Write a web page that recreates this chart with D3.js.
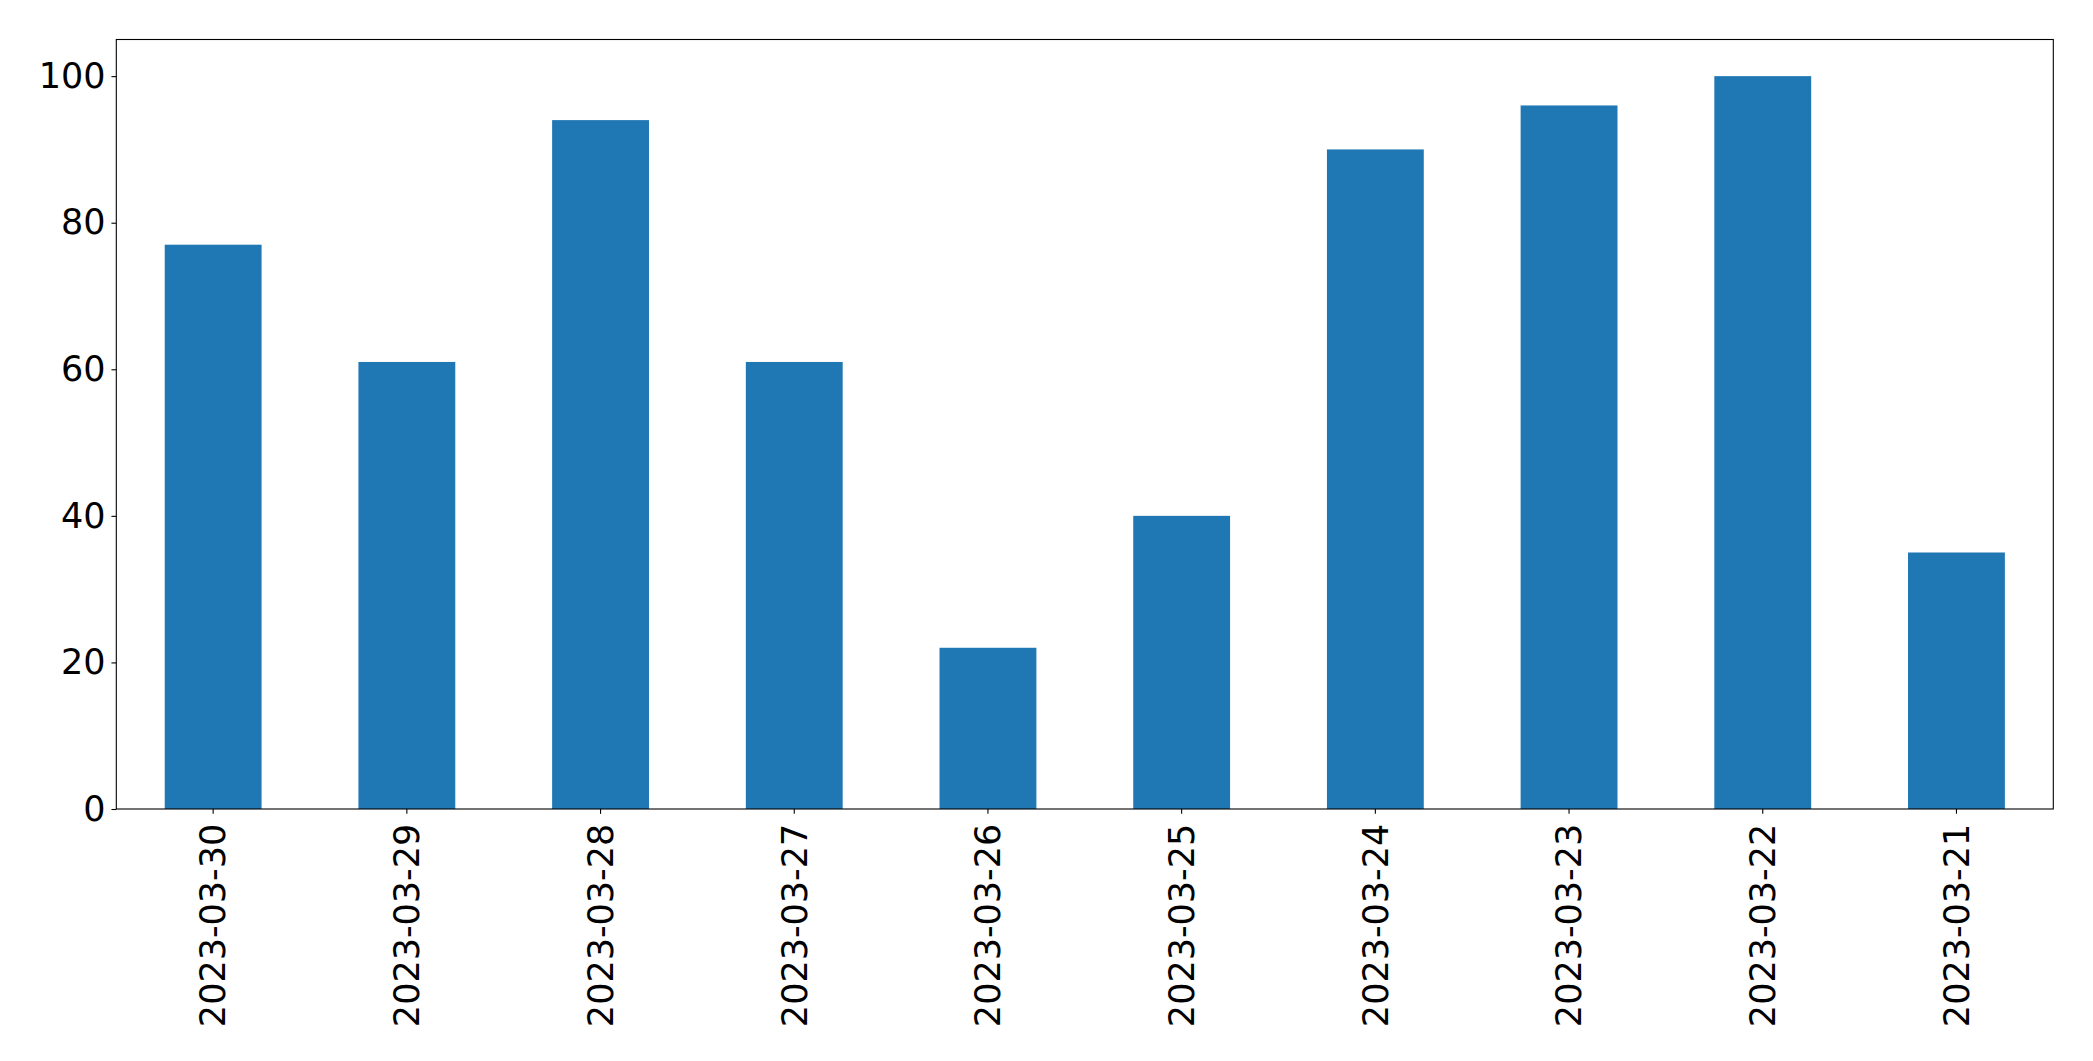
<!DOCTYPE html>
<html>
<head>
<meta charset="utf-8">
<script src="https://cdn.jsdelivr.net/npm/d3@7"></script>
<style>
  html, body { margin: 0; padding: 0; background: #fff; }
  svg { display: block; }
  text { font-family: "DejaVu Sans", sans-serif; fill: #000; }
</style>
</head>
<body>
<svg id="chart" width="2093" height="1061"></svg>
<script>
const categories = ["2023-03-30","2023-03-29","2023-03-28","2023-03-27","2023-03-26","2023-03-25","2023-03-24","2023-03-23","2023-03-22","2023-03-21"];
const values = [77, 61, 94, 61, 22, 40, 90, 96, 100, 35];
const yTicks = [0, 20, 40, 60, 80, 100];

const W = 2093, H = 1061;
const margin = { left: 116.3, right: W - 2053.3, top: 39.5, bottom: H - 809 };
const svg = d3.select("#chart");
const x0 = margin.left, x1 = W - margin.right, y0 = H - margin.bottom, y1 = margin.top;

const x = d3.scaleBand().domain(categories).range([x0, x1]).paddingInner(0.5).paddingOuter(0.25);
const y = d3.scaleLinear().domain([0, 105]).range([y0, y1]);

svg.append("g").selectAll("rect").data(values).join("rect")
  .attr("x", (d, i) => x(categories[i]))
  .attr("width", x.bandwidth())
  .attr("y", d => y(d))
  .attr("height", d => y(0) - y(d))
  .attr("fill", "#1f77b4");

const fs = 35;
const tickLen = 4.86, pad = 4.86;

const yAxis = d3.axisLeft(y).tickValues(yTicks).tickSize(tickLen).tickPadding(pad + 1).tickFormat(d3.format("d"));
const gy = svg.append("g").attr("transform", `translate(${x0},0)`).call(yAxis);
gy.select(".domain").remove();
gy.selectAll("line").attr("stroke", "#000").attr("stroke-width", 1.1);
gy.selectAll("text").style("font-size", fs + "px").attr("font-family", "DejaVu Sans").attr("fill", "#000");

const xAxis = d3.axisBottom(x).tickSize(tickLen).tickPadding(pad);
const gx = svg.append("g").attr("transform", `translate(0,${y0})`).call(xAxis);
gx.select(".domain").remove();
gx.selectAll("line").attr("stroke", "#000").attr("stroke-width", 1.1);
gx.selectAll("text")
  .style("font-size", fs + "px").attr("font-family", "DejaVu Sans").attr("fill", "#000")
  .attr("transform", "rotate(-90)")
  .attr("text-anchor", "end")
  .attr("x", -(tickLen + pad + 5))
  .attr("y", 0)
  .attr("dy", "0.35em");

svg.append("rect")
  .attr("x", x0).attr("y", y1)
  .attr("width", x1 - x0).attr("height", y0 - y1)
  .attr("fill", "none").attr("stroke", "#000").attr("stroke-width", 1.1);
</script>
</body>
</html>
